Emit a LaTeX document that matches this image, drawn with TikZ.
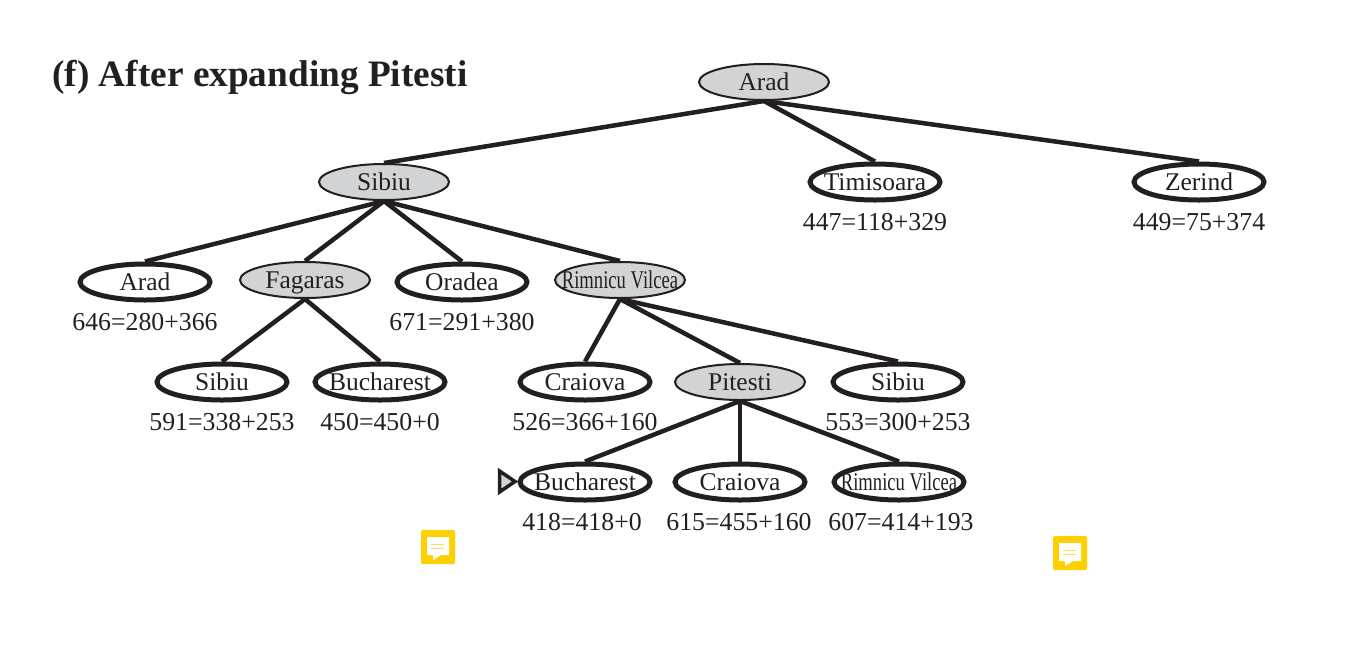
\documentclass[tikz,border=0pt]{standalone}
\usepackage{fontspec,graphicx}
\setmainfont{Liberation Serif}
\usetikzlibrary{positioning,shapes.geometric}
\definecolor{nbink}{HTML}{231F20}
\definecolor{nbgray}{HTML}{D1D3D4}
\definecolor{nbnote}{HTML}{FFD000}
\newcommand{\nm}[1]{\makebox[0pt]{#1}}
\newcommand{\nmnarrow}[1]{\makebox[0pt]{\scalebox{0.73}[1]{#1}}}
\begin{document}
\begin{tikzpicture}[x=1pt,y=-1pt,
      txt/.style={text=nbink,font=\fontsize{25.5}{28}\selectfont},
      city/.style={ellipse,txt,draw=nbink,inner sep=0pt,minimum width=130pt,minimum height=36pt,
        text height=17pt,text depth=0pt},
      done/.style={city,fill=nbgray,line width=2pt},
      open/.style={city,fill=white,line width=5pt},
      cost/.style={txt,font=\fontsize{25.8}{28}\selectfont,inner sep=0pt,below=11pt},
      arr/.style={draw=nbink,line width=4.5pt},
      note/.pic={
        \fill[nbnote,rounded corners=1.5pt] (0,0) rectangle (34,34);
        \fill[white] (6,7) -- (28,7) -- (28,25) -- (20,25) -- (12,30) -- (12,25) -- (6,25) -- cycle;
        \draw[nbnote!70,line width=1pt] (10,14) -- (23,14) (10,18) -- (23,18);
      }]
    \useasboundingbox (0,0) rectangle (1359,654);
    \node[anchor=base west,inner sep=0pt,text=nbink,font=\fontsize{37.3}{40}\selectfont\bfseries] (title) at (52,86)
      {(f) After expanding Pitesti};
    % level 0 and 1
    \node[done] (arad) at (764,82) {\nm{Arad}};
    \node[done] (sib) at (384,182) {\nm{Sibiu}};
    \node[open] (tim) at (875,182) {\nm{Timisoara}};
    \node[open] (zer) at (1199,182) {\nm{Zerind}};
    \node[cost,below=11pt of tim] (timc) {447=118+329};
    \node[cost,below=11pt of zer] (zerc) {449=75+374};
    % level 2
    \node[open] (arad2) at (145,282) {\nm{Arad}};
    \node[done] (fag) at (305,280) {\nm{Fagaras}};
    \node[open] (ora) at (462,282) {\nm{Oradea}};
    \node[done] (rim) at (620,280) {\nmnarrow{Rimnicu Vilcea}};
    \node[cost,below=11pt of arad2] (arad2c) {646=280+366};
    \node[cost,below=11pt of ora] (orac) {671=291+380};
    % level 3
    \node[open] (sib2) at (222,382) {\nm{Sibiu}};
    \node[open] (buc) at (380,382) {\nm{Bucharest}};
    \node[open] (cra) at (585,382) {\nm{Craiova}};
    \node[done] (pit) at (740,382) {\nm{Pitesti}};
    \node[open] (sib3) at (898,382) {\nm{Sibiu}};
    \node[cost,below=11pt of sib2] (sib2c) {591=338+253};
    \node[cost,below=11pt of buc] (bucc) {450=450+0};
    \node[cost,below=11pt of cra] (crac) {526=366+160};
    \node[cost,below=11pt of sib3] (sib3c) {553=300+253};
    % level 4
    \node[open] (buc2) at (585,482) {\nm{Bucharest}};
    \node[open] (cra2) at (740,482) {\nm{Craiova}};
    \node[open] (rim2) at (899,482) {\nmnarrow{Rimnicu Vilcea}};
    \node[cost,below=11pt of buc2,xshift=-3pt] (buc2c) {418=418+0};
    \node[cost,below=11pt of cra2,xshift=-1pt] (cra2c) {615=455+160};
    \node[cost,below=11pt of rim2,xshift=2pt] (rim2c) {607=414+193};
    \foreach \from/\to in {arad/sib,arad/tim,arad/zer,sib/arad2,sib/fag,sib/ora,sib/rim,
        fag/sib2,fag/buc,rim/cra,rim/pit,rim/sib3,pit/buc2,pit/cra2,pit/rim2}
      \draw[arr] (\from.south) -- (\to.north);
    % marker and note icons
    \draw[draw=nbink,fill=nbgray,line width=3.5pt,miter limit=4] (499.5,471) -- (515,481.5) -- (499.5,492) -- cycle;
    \pic at (421,530) {note};
    \pic at (1053,536) {note};
  \end{tikzpicture}
\end{document}
